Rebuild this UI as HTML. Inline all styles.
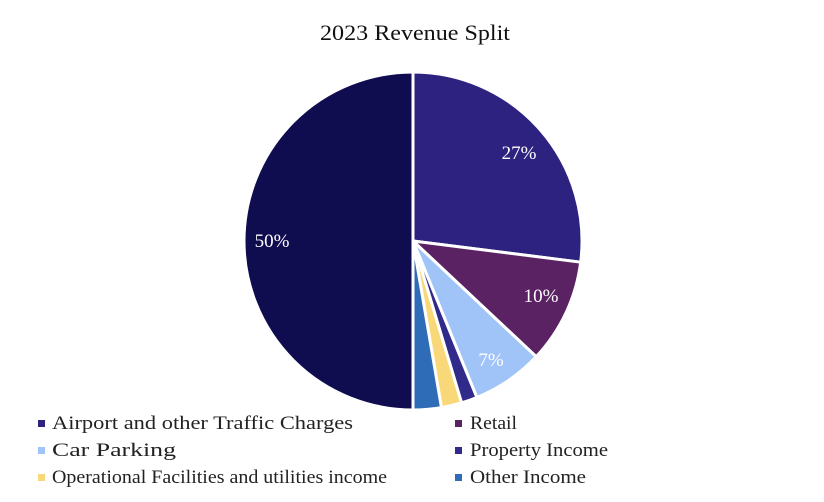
<!DOCTYPE html>
<html><head><meta charset="utf-8"><style>
body{margin:0;background:#fff;}
svg{display:block;font-family:"Liberation Serif",serif;}
</style></head><body>
<svg id="s" width="824" height="502" viewBox="0 0 824 502">
<text x="320" y="40" font-size="22" fill="#111" textLength="190" lengthAdjust="spacingAndGlyphs">2023 Revenue Split</text>
<g id="pie"></g>
<g font-size="19" fill="#fff" text-anchor="middle">
<text x="519" y="159">27%</text>
<text x="541" y="302">10%</text>
<text x="491" y="366">7%</text>
<text x="272" y="247">50%</text>
</g>
<g font-size="19" fill="#222" lengthAdjust="spacingAndGlyphs">
<rect x="38" y="420" width="7" height="7" fill="#2e2280"/><text x="52" y="429" textLength="301" lengthAdjust="spacingAndGlyphs">Airport and other Traffic Charges</text>
<rect x="38" y="447" width="7" height="7" fill="#a0c4f8"/><text x="52" y="456" textLength="124" lengthAdjust="spacingAndGlyphs">Car Parking</text>
<rect x="38" y="474" width="7" height="7" fill="#f8d878"/><text x="52" y="483" textLength="335" lengthAdjust="spacingAndGlyphs">Operational Facilities and utilities income</text>
<rect x="455" y="420" width="7" height="7" fill="#5a2262"/><text x="470" y="429" textLength="47" lengthAdjust="spacingAndGlyphs">Retail</text>
<rect x="455" y="447" width="7" height="7" fill="#302a8a"/><text x="470" y="456" textLength="138" lengthAdjust="spacingAndGlyphs">Property Income</text>
<rect x="455" y="474" width="7" height="7" fill="#2e6cb8"/><text x="470" y="483" textLength="116" lengthAdjust="spacingAndGlyphs">Other Income</text>
</g>
</svg>
<script>
var cx=413,cy=241,r=169;
var sl=[[0,97.2,"#2e2280"],[97.2,133.2,"#5a2262"],[133.2,157.8,"#a0c4f8"],[157.8,163.3,"#302a8a"],[163.3,170.3,"#f8d878"],[170.3,180,"#2e6cb8"],[180,360,"#100c50"]];
function p(a){a=a*Math.PI/180;return (cx+r*Math.sin(a)).toFixed(2)+","+(cy-r*Math.cos(a)).toFixed(2);}
var h="";
sl.forEach(function(s){var la=(s[1]-s[0])>180?1:0;
h+='<path d="M'+cx+','+cy+' L'+p(s[0])+' A'+r+','+r+' 0 '+la+' 1 '+p(s[1])+' Z" fill="'+s[2]+'" stroke="#fff" stroke-width="3" stroke-linejoin="round"/>';});
document.getElementById("pie").innerHTML=h;
</script>
</body></html>
